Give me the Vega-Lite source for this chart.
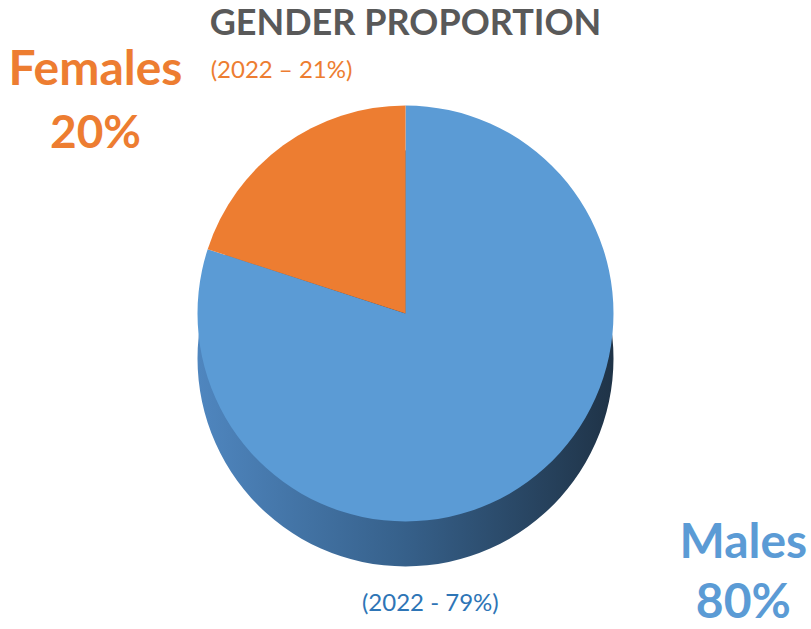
{
  "$schema": "https://vega.github.io/schema/vega-lite/v6.json",
  "width": 811,
  "height": 577,
  "autosize": "none",
  "padding": {"top": 52, "left": 0, "right": 0, "bottom": 0},
  "background": "white",
  "config": {"view": {"stroke": null}, "font": "Lato"},
  "title": {
    "text": "GENDER PROPORTION",
    "fontSize": 36,
    "font": "Lato",
    "fontWeight": "bold",
    "color": "#595959",
    "anchor": "middle",
    "offset": 4
  },
  "data": {
    "values": [
      {"gender": "Males", "share": 80, "name": "Males", "pct": "80%", "prev": "(2022 - 79%)"},
      {"gender": "Females", "share": 20, "name": "Females", "pct": "20%", "prev": "(2022 – 21%)"}
    ]
  },
  "encoding": {
    "theta": {"field": "share", "type": "quantitative", "stack": true},
    "order": {"field": "share", "type": "quantitative", "sort": "descending"}
  },
  "layer": [
    {
      "mark": {
        "type": "arc",
        "outerRadius": 208,
        "yOffset": 18,
        "fill": {
          "gradient": "linear",
          "x1": 0, "y1": 0, "x2": 1, "y2": 0,
          "stops": [
            {"offset": 0, "color": "#4F86BF"},
            {"offset": 0.5, "color": "#36608A"},
            {"offset": 1, "color": "#1F3347"}
          ]
        }
      }
    },
    {
      "mark": {"type": "arc", "outerRadius": 208, "yOffset": -27},
      "encoding": {
        "color": {
          "field": "gender",
          "type": "nominal",
          "scale": {"domain": ["Males", "Females"], "range": ["#5B9BD5", "#ED7D31"]},
          "legend": null
        }
      }
    },
    {
      "mark": {"type": "text", "radius": 330, "dx": -116, "dy": -3, "fontSize": 48, "fontWeight": "bold", "color": "#ED7D31"},
      "encoding": {"text": {"condition": {"test": "datum.gender === 'Females'", "field": "name"}, "value": ""}}
    },
    {
      "mark": {"type": "text", "radius": 330, "dx": -116, "dy": 60, "fontSize": 46, "fontWeight": "bold", "color": "#ED7D31"},
      "encoding": {"text": {"condition": {"test": "datum.gender === 'Females'", "field": "pct"}, "value": ""}}
    },
    {
      "mark": {"type": "text", "radius": 330, "dx": 70, "dy": -3, "fontSize": 24, "color": "#ED7D31"},
      "encoding": {"text": {"condition": {"test": "datum.gender === 'Females'", "field": "prev"}, "value": ""}}
    },
    {
      "mark": {"type": "text", "radius": 260, "dx": 185, "dy": -7, "fontSize": 48, "fontWeight": "bold", "color": "#5B9BD5"},
      "encoding": {"text": {"condition": {"test": "datum.gender === 'Males'", "field": "name"}, "value": ""}}
    },
    {
      "mark": {"type": "text", "radius": 260, "dx": 185, "dy": 53, "fontSize": 48, "fontWeight": "bold", "color": "#5B9BD5"},
      "encoding": {"text": {"condition": {"test": "datum.gender === 'Males'", "field": "pct"}, "value": ""}}
    },
    {
      "mark": {"type": "text", "radius": 260, "dx": -128, "dy": 53, "fontSize": 24, "color": "#2E75B6"},
      "encoding": {"text": {"condition": {"test": "datum.gender === 'Males'", "field": "prev"}, "value": ""}}
    }
  ]
}
